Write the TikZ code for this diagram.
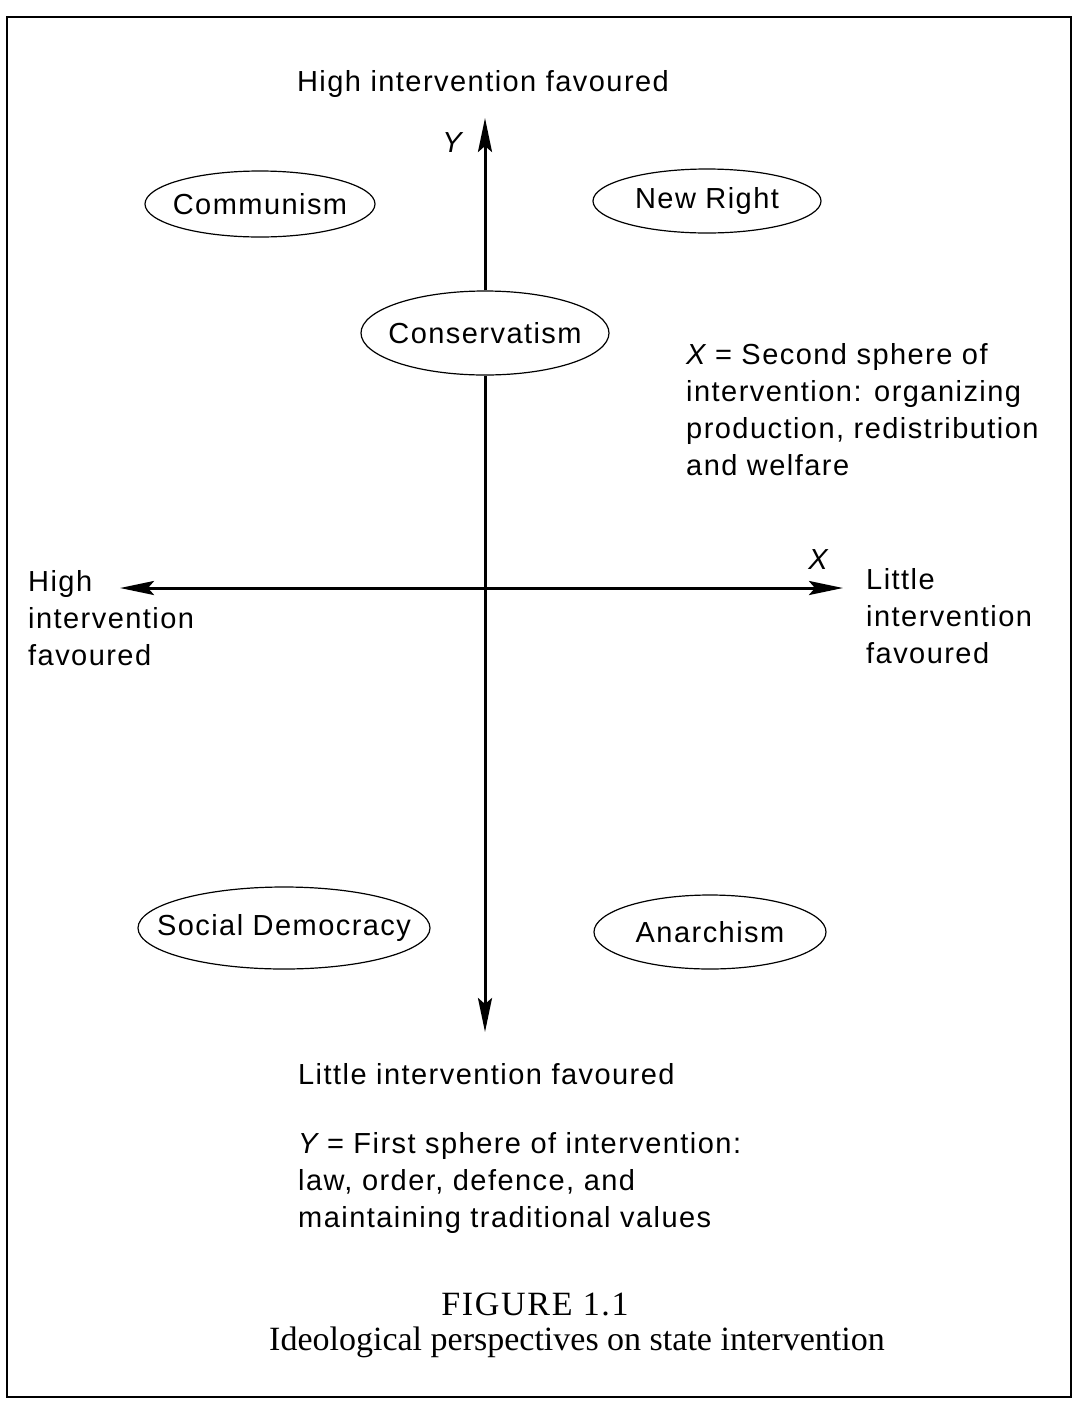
\documentclass[tikz,border=0pt]{standalone}
\usepackage{fontspec}
\setmainfont[LetterSpace=5]{Liberation Sans}
\newfontfamily\capfont{Liberation Serif}
\newfontfamily\figfont[LetterSpace=5]{Liberation Serif}
\usetikzlibrary{shapes.geometric,arrows.meta}
\begin{document}
\begin{tikzpicture}[x=1pt,y=-1pt,
  lbl/.style={font=\fontsize{29}{37}\selectfont, inner sep=0pt, align=left},
  ideo/.style={ellipse, draw, line width=1.2pt, fill=white, inner xsep=-60pt, inner ysep=-12pt, font=\fontsize{29}{35}\selectfont},
  tip/.tip={Stealth[length=34pt,width=14pt,inset=6pt]},
  axis/.style={line width=3pt, tip-tip},
  axisone/.style={line width=3pt, -tip},
  captext/.style={font=\capfont\fontsize{34}{40}\selectfont, inner sep=0pt, align=center}]
\useasboundingbox (0,0) rectangle (1076,1401);
\draw[line width=2pt] (7,17) rectangle (1071,1397);
% axes
\coordinate (ytop) at (485,118);
\coordinate (ybot) at (485,1032);
\coordinate (xl) at (120,588);
\coordinate (xr) at (843,588);
\draw[axis] (xl) -- (xr);
\node[ideo, minimum width=248pt, minimum height=84pt] (cons) at (485,333) {Conservatism};
\draw[axisone] (cons.north) -- (ytop);
\draw[axisone] (cons.south) -- (ybot);
% ellipses
\node[ideo, minimum width=230pt, minimum height=66pt] (comm) at (260,204) {Communism};
\node[ideo, minimum width=228pt, minimum height=64pt] (nr) at (707,201) {New Right};
\node[ideo, minimum width=292pt, minimum height=82pt] (sd) at (284,928) {Social Democracy};
\node[ideo, minimum width=232pt, minimum height=74pt] (an) at (710,932) {Anarchism};
% labels
\node[lbl] (top) at (483,84) {High intervention favoured};
\node[lbl] (ylab) at (452,143) {\itshape Y};
\node[lbl] (xlab) at (818,560) {\itshape X};
\node[lbl, anchor=north west] (xdesc) at (686,343) {\itshape X\upshape{} = Second sphere of\\intervention: organizing\\production, redistribution\\and welfare};
\node[lbl, anchor=north west] (lft) at (28,570) {High\\intervention\\favoured};
\node[lbl, anchor=north west] (rgt) at (866,568) {Little\\intervention\\favoured};
\node[lbl, anchor=north west] (bot) at (298,1063) {Little intervention favoured};
\node[lbl, anchor=north west] (ydesc) at (298,1132) {\itshape Y\upshape{} = First sphere of intervention:\\law, order, defence, and\\maintaining traditional values};
\node[captext, font=\figfont\fontsize{34}{40}\selectfont] (fig) at (535,1304) {FIGURE 1.1};
\node[captext] (title) at (577,1342) {Ideological perspectives on state intervention};
\end{tikzpicture}
\end{document}
